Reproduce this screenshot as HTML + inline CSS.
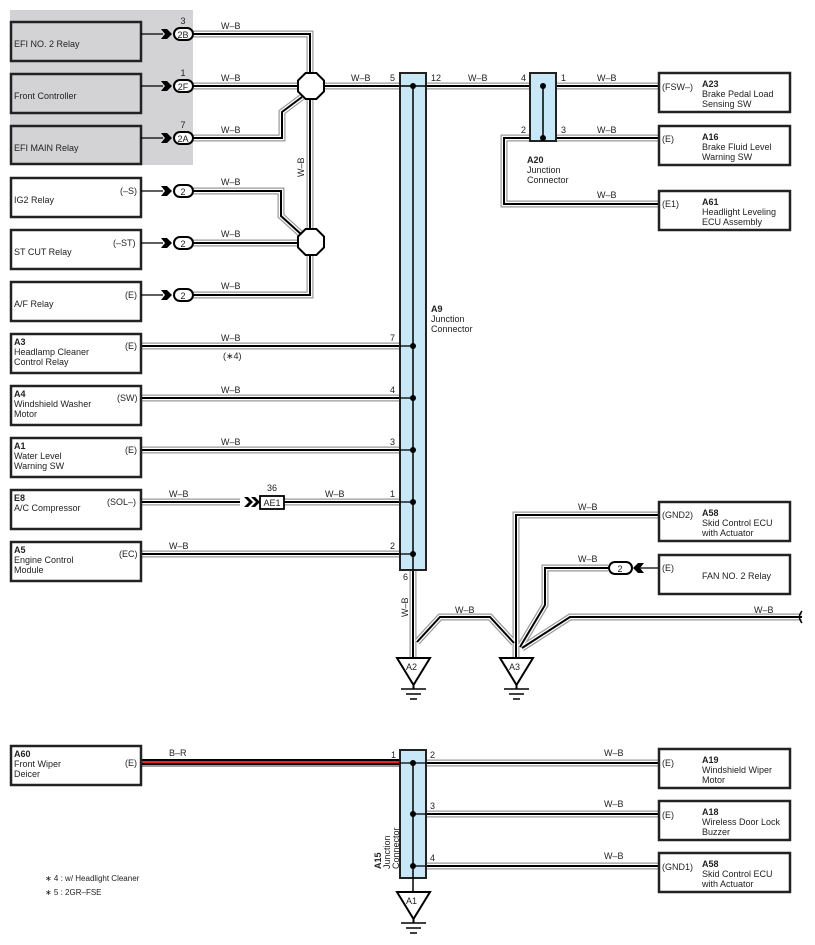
<!DOCTYPE html>
<html><head><meta charset="utf-8"><style>
body{margin:0;background:#fff}
svg{display:block}
text{font-family:"Liberation Sans",sans-serif;font-size:9px;fill:#222}
.g1{stroke:#999;stroke-width:7;fill:none}
.g2{stroke:#fff;stroke-width:4.6;fill:none}
.g3{stroke:#000;stroke-width:2;fill:none}
.box{fill:#fff;stroke:#222;stroke-width:2.5}
.gbox{fill:#d3d3d5;stroke:#222;stroke-width:2.5}
.jc{fill:#c8e8f8;stroke:#222;stroke-width:2}
.b{font-weight:bold}
</style></head><body>
<svg width="815" height="945" viewBox="0 0 815 945">
<defs>
<path id="p1" d="M193,34 H310 V295 H193"/>
<path id="p2" d="M193,86 H400"/>
<path id="p3" d="M193,138 H282 V112 L302,97"/>
<path id="p4" d="M193,191 H281 V216 L302,235"/>
<path id="p5" d="M193,243 H310"/>
<path id="q1" d="M141,346 H400"/>
<path id="q2" d="M141,398 H400"/>
<path id="q3" d="M141,450 H400"/>
<path id="q4" d="M141,502 H240"/>
<path id="q5" d="M284,502 H400"/>
<path id="q6" d="M141,554 H400"/>
<path id="r1" d="M426,86 H659"/>
<path id="r2" d="M556,138 H659"/>
<path id="r3" d="M530,138 H504 V204 H659"/>
<path id="s1" d="M413,570 V658"/>
<path id="s2" d="M417,642 L440,617 H490 L514,643"/>
<path id="s3" d="M659,515 H516 V658"/>
<path id="s4" d="M608,568 H545 V605 L520,647"/>
<path id="s5" d="M802,617 H570 L522,648"/>
<path id="t2" d="M426,763 H659"/>
<path id="t3" d="M426,814 H659"/>
<path id="t4" d="M426,866 H659"/>
</defs>
<rect x="10" y="10" width="183" height="155" fill="#d3d3d5"/>
<g class="g1"><use href="#p1"/><use href="#p2"/><use href="#p3"/><use href="#p4"/><use href="#p5"/><use href="#q1"/><use href="#q2"/><use href="#q3"/><use href="#q4"/><use href="#q5"/><use href="#q6"/><use href="#r1"/><use href="#r2"/><use href="#r3"/><use href="#s1"/><use href="#s2"/><use href="#s3"/><use href="#s4"/><use href="#s5"/><use href="#t2"/><use href="#t3"/><use href="#t4"/></g>
<g class="g2"><use href="#p1"/><use href="#p2"/><use href="#p3"/><use href="#p4"/><use href="#p5"/><use href="#q1"/><use href="#q2"/><use href="#q3"/><use href="#q4"/><use href="#q5"/><use href="#q6"/><use href="#r1"/><use href="#r2"/><use href="#r3"/><use href="#s1"/><use href="#s2"/><use href="#s3"/><use href="#s4"/><use href="#s5"/><use href="#t2"/><use href="#t3"/><use href="#t4"/></g>
<g class="g3"><use href="#p1"/><use href="#p2"/><use href="#p3"/><use href="#p4"/><use href="#p5"/><use href="#q1"/><use href="#q2"/><use href="#q3"/><use href="#q4"/><use href="#q5"/><use href="#q6"/><use href="#r1"/><use href="#r2"/><use href="#r3"/><use href="#s1"/><use href="#s2"/><use href="#s3"/><use href="#s4"/><use href="#s5"/><use href="#t2"/><use href="#t3"/><use href="#t4"/></g>
<!-- red wire -->
<path d="M141,763 H400" stroke="#999" stroke-width="8" fill="none"/>
<path d="M141,762 H400" stroke="#000" stroke-width="6" fill="none"/>
<path d="M141,762 H400" stroke="#e22" stroke-width="2" fill="none"/>
<path d="M802,611 Q797,617 802,623" stroke="#000" stroke-width="1.5" fill="none"/>
<!-- octagons -->
<polygon transform="translate(311,86)" points="13,-5.4 13,5.4 5.4,13 -5.4,13 -13,5.4 -13,-5.4 -5.4,-13 5.4,-13" fill="#fff" stroke="#000" stroke-width="2"/>
<polygon transform="translate(311,242)" points="13,-5.4 13,5.4 5.4,13 -5.4,13 -13,5.4 -13,-5.4 -5.4,-13 5.4,-13" fill="#fff" stroke="#000" stroke-width="2"/>
<!-- left boxes -->
<g>
<rect class="gbox" x="11" y="22" width="130" height="39"/>
<rect class="gbox" x="11" y="74" width="130" height="39"/>
<rect class="gbox" x="11" y="126" width="130" height="38"/>
<rect class="box" x="11" y="178" width="130" height="39"/>
<rect class="box" x="11" y="230" width="130" height="39"/>
<rect class="box" x="11" y="282" width="130" height="39"/>
<rect class="box" x="11" y="334" width="130" height="39"/>
<rect class="box" x="11" y="386" width="130" height="39"/>
<rect class="box" x="11" y="438" width="130" height="39"/>
<rect class="box" x="11" y="490" width="130" height="39"/>
<rect class="box" x="11" y="542" width="130" height="39"/>
<rect class="box" x="11" y="746" width="130" height="39"/>
</g>
<text x="14" y="47">EFI NO. 2 Relay</text>
<text x="14" y="99">Front Controller</text>
<text x="14" y="151">EFI MAIN Relay</text>
<text x="14" y="203">IG2 Relay</text>
<text x="14" y="255">ST CUT Relay</text>
<text x="14" y="307">A/F Relay</text>
<text x="120" y="194">(–S)</text>
<text x="113" y="246">(–ST)</text>
<text x="125" y="298">(E)</text>
<text x="14" y="345" class="b">A3</text><text x="14" y="355">Headlamp Cleaner</text><text x="14" y="365">Control Relay</text><text x="125" y="349">(E)</text>
<text x="14" y="397" class="b">A4</text><text x="14" y="407">Windshield Washer</text><text x="14" y="417">Motor</text><text x="117" y="401">(SW)</text>
<text x="14" y="449" class="b">A1</text><text x="14" y="459">Water Level</text><text x="14" y="469">Warning SW</text><text x="125" y="453">(E)</text>
<text x="14" y="501" class="b">E8</text><text x="14" y="511">A/C Compressor</text><text x="107" y="505">(SOL–)</text>
<text x="14" y="553" class="b">A5</text><text x="14" y="563">Engine Control</text><text x="14" y="573">Module</text><text x="119" y="557">(EC)</text>
<text x="14" y="757" class="b">A60</text><text x="14" y="767">Front Wiper</text><text x="14" y="777">Deicer</text><text x="125" y="766">(E)</text>
<!-- connector arrows & pills -->
<g stroke="#000" stroke-width="1.3">
<line x1="141" y1="34" x2="163" y2="34"/><line x1="141" y1="86" x2="163" y2="86"/><line x1="141" y1="138" x2="163" y2="138"/>
<line x1="141" y1="191" x2="163" y2="191"/><line x1="141" y1="243" x2="163" y2="243"/><line x1="141" y1="295" x2="163" y2="295"/>
<line x1="634" y1="568" x2="659" y2="568"/>
</g>
<g fill="#000">
<polygon points="161,29 167,29 172,34 167,39 161,39 165,34"/>
<polygon points="161,81 167,81 172,86 167,91 161,91 165,86"/>
<polygon points="161,133 167,133 172,138 167,143 161,143 165,138"/>
<polygon points="161,186 167,186 172,191 167,196 161,196 165,191"/>
<polygon points="161,238 167,238 172,243 167,248 161,248 165,243"/>
<polygon points="161,290 167,290 172,295 167,300 161,300 165,295"/>
<polygon points="644,563 638,563 633,568 638,573 644,573 640,568"/>
</g>
<polygon points="244,497 248,497 253,502 248,507 244,507 249,502" fill="#000"/>
<polygon points="251,497 255,497 260,502 255,507 251,507 256,502" fill="#000"/>
<g fill="#fff" stroke="#000" stroke-width="2">
<rect x="174" y="28" width="19" height="12" rx="6"/>
<rect x="174" y="80" width="19" height="12" rx="6"/>
<rect x="174" y="132" width="19" height="12" rx="6"/>
<rect x="174" y="185" width="19" height="12" rx="6"/>
<rect x="174" y="237" width="19" height="12" rx="6"/>
<rect x="174" y="289" width="19" height="12" rx="6"/>
<rect x="609" y="562" width="23" height="12" rx="6"/>
<rect x="260" y="496" width="24" height="13" stroke-width="1.8"/>
</g>
<g text-anchor="middle">
<text x="183" y="38">2B</text><text x="183" y="90">2F</text><text x="183" y="142">2A</text>
<text x="183" y="195">2</text><text x="183" y="247">2</text><text x="183" y="299">2</text>
<text x="620" y="572">2</text><text x="272" y="506">AE1</text>
<text x="183" y="24">3</text><text x="183" y="76">1</text><text x="183" y="128">7</text><text x="272" y="491">36</text>
</g>
<!-- W-B labels -->
<g>
<text x="221" y="29">W–B</text><text x="221" y="81">W–B</text><text x="221" y="133">W–B</text>
<text x="221" y="185">W–B</text><text x="221" y="237">W–B</text><text x="221" y="289">W–B</text>
<text x="351" y="81">W–B</text>
<text x="221" y="341">W–B</text><text x="223" y="359">(∗4)</text>
<text x="221" y="393">W–B</text><text x="221" y="445">W–B</text>
<text x="169" y="497">W–B</text><text x="325" y="497">W–B</text><text x="169" y="549">W–B</text>
<text x="468" y="81">W–B</text><text x="597" y="81">W–B</text><text x="597" y="133">W–B</text><text x="597" y="198">W–B</text>
<text x="578" y="510">W–B</text><text x="578" y="562">W–B</text><text x="455" y="613">W–B</text><text x="754" y="613">W–B</text>
<text x="169" y="756">B–R</text>
<text x="604" y="756">W–B</text><text x="604" y="807">W–B</text><text x="604" y="859">W–B</text>
<text transform="translate(304,177) rotate(-90)">W–B</text>
<text transform="translate(408,617) rotate(-90)">W–B</text>
</g>
<!-- A9 -->
<rect class="jc" x="400" y="73" width="26" height="497"/>
<line x1="413" y1="86" x2="413" y2="570" stroke="#000" stroke-width="1.5"/>
<line x1="400" y1="86" x2="413" y2="86" stroke="#000" stroke-width="1.5"/>
<line x1="413" y1="86" x2="426" y2="86" stroke="#000" stroke-width="1.5"/>
<g stroke="#000" stroke-width="1.3"><line x1="400" y1="346" x2="413" y2="346"/><line x1="400" y1="398" x2="413" y2="398"/><line x1="400" y1="450" x2="413" y2="450"/><line x1="400" y1="502" x2="413" y2="502"/><line x1="400" y1="554" x2="413" y2="554"/></g>
<g fill="#000"><circle cx="413" cy="86" r="3"/><circle cx="413" cy="346" r="3"/><circle cx="413" cy="398" r="3"/><circle cx="413" cy="450" r="3"/><circle cx="413" cy="502" r="3"/><circle cx="413" cy="554" r="3"/></g>
<text x="390" y="81">5</text><text x="431" y="81">12</text>
<text x="390" y="341">7</text><text x="390" y="393">4</text><text x="390" y="445">3</text><text x="390" y="497">1</text><text x="390" y="549">2</text><text x="403" y="580">6</text>
<text x="431" y="312" class="b">A9</text><text x="431" y="322">Junction</text><text x="431" y="332">Connector</text>
<!-- A20 -->
<rect class="jc" x="530" y="73" width="26" height="68"/>
<line x1="543" y1="86" x2="543" y2="138" stroke="#000" stroke-width="1.5"/>
<circle cx="543" cy="86" r="3"/><circle cx="543" cy="138" r="3"/>
<text x="521" y="81">4</text><text x="561" y="81">1</text><text x="521" y="133">2</text><text x="561" y="133">3</text>
<text x="527" y="163" class="b">A20</text><text x="527" y="173">Junction</text><text x="527" y="183">Connector</text>
<!-- right boxes -->
<rect class="box" x="659" y="73" width="131" height="39"/>
<rect class="box" x="659" y="126" width="131" height="39"/>
<rect class="box" x="659" y="191" width="131" height="39"/>
<rect class="box" x="659" y="502" width="131" height="39"/>
<rect class="box" x="659" y="555" width="131" height="39"/>
<rect class="box" x="659" y="749" width="131" height="39"/>
<rect class="box" x="659" y="801" width="131" height="39"/>
<rect class="box" x="659" y="853" width="131" height="39"/>
<text x="662" y="90">(FSW–)</text><text x="702" y="87" class="b">A23</text><text x="702" y="97">Brake Pedal Load</text><text x="702" y="107">Sensing SW</text>
<text x="662" y="142">(E)</text><text x="702" y="140" class="b">A16</text><text x="702" y="150">Brake Fluid Level</text><text x="702" y="160">Warning SW</text>
<text x="662" y="207">(E1)</text><text x="702" y="205" class="b">A61</text><text x="702" y="215">Headlight Leveling</text><text x="702" y="225">ECU Assembly</text>
<text x="662" y="518">(GND2)</text><text x="702" y="516" class="b">A58</text><text x="702" y="526">Skid Control ECU</text><text x="702" y="536">with Actuator</text>
<text x="662" y="571">(E)</text><text x="702" y="579">FAN NO. 2 Relay</text>
<text x="662" y="766">(E)</text><text x="702" y="763" class="b">A19</text><text x="702" y="773">Windshield Wiper</text><text x="702" y="783">Motor</text>
<text x="662" y="818">(E)</text><text x="702" y="815" class="b">A18</text><text x="702" y="825">Wireless Door Lock</text><text x="702" y="835">Buzzer</text>
<text x="662" y="870">(GND1)</text><text x="702" y="867" class="b">A58</text><text x="702" y="877">Skid Control ECU</text><text x="702" y="887">with Actuator</text>
<!-- grounds -->
<g id="gnd" fill="#fff" stroke="#000" stroke-width="2">
<polygon points="397,658 430,658 413.5,685"/>
<line x1="413.5" y1="685" x2="413.5" y2="689"/>
<line x1="401" y1="689" x2="426" y2="689" stroke-width="1.5"/>
<line x1="406" y1="694" x2="421" y2="694" stroke-width="1.5"/>
<line x1="410" y1="699" x2="417" y2="699" stroke-width="1.5"/>
</g>
<use href="#gnd" transform="translate(103,0)"/>
<use href="#gnd" transform="translate(0,234)"/>
<text x="406" y="670">A2</text><text x="509" y="670">A3</text><text x="406" y="904">A1</text>
<!-- A15 -->
<rect class="jc" x="400" y="750" width="26" height="128"/>
<line x1="413" y1="763" x2="413" y2="892" stroke="#000" stroke-width="1.5"/>
<g stroke="#000" stroke-width="1.3"><line x1="400" y1="763" x2="426" y2="763"/><line x1="413" y1="814" x2="426" y2="814"/><line x1="413" y1="866" x2="426" y2="866"/></g>
<circle cx="413" cy="763" r="3"/><circle cx="413" cy="814" r="3"/><circle cx="413" cy="866" r="3"/>
<text x="391" y="758">1</text><text x="430" y="758">2</text><text x="430" y="809">3</text><text x="430" y="861">4</text>
<text transform="translate(381,869) rotate(-90)" class="b">A15</text>
<text transform="translate(390,869) rotate(-90)">Junction</text>
<text transform="translate(399,869) rotate(-90)">Connector</text>
<text x="45" y="881" style="font-size:8px">∗ 4 : w/ Headlight Cleaner</text>
<text x="45" y="895" style="font-size:8px">∗ 5 : 2GR–FSE</text>
</svg>
</body></html>
